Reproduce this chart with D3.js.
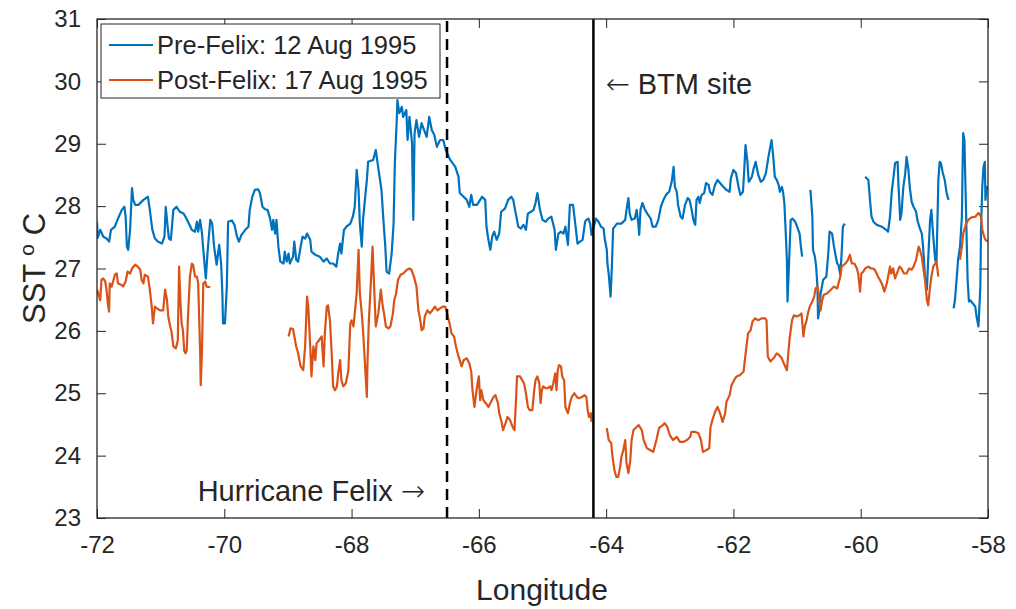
<!DOCTYPE html>
<html>
<head>
<meta charset="utf-8">
<script src="https://cdn.jsdelivr.net/npm/d3@7"></script>
<style>
  body { margin: 0; background: #fff; }
  text { font-family: "Liberation Sans", Arial, Helvetica, sans-serif; fill: #262626; }
</style>
</head>
<body>
<svg id="chart" width="1016" height="609"></svg>
<script>
// ---- Data -------------------------------------------------------------
const xTicks = [-72, -70, -68, -66, -64, -62, -60, -58];
const yTicks = [23, 24, 25, 26, 27, 28, 29, 30, 31];
const seriesNames = ["Pre-Felix: 12 Aug 1995", "Post-Felix: 17 Aug 1995"];
const seriesColors = ["#0072BD", "#D95319"];
const hurricaneLon = -66.5;   // storm track crossing
const btmLon = -64.2;         // BTM mooring site

// Pre-Felix SST transect (null = no data)
const preLon = [
  -72.00,-71.99,-71.95,-71.90,-71.85,-71.81,-71.78,-71.72,-71.67,-71.61,-71.57,-71.55,-71.53,-71.51,-71.48,-71.45,-71.43,-71.40,-71.35,-71.27,
  -71.20,-71.17,-71.13,-71.09,-71.04,-70.98,-70.94,-70.92,-70.89,-70.87,-70.84,-70.80,-70.75,-70.70,-70.64,-70.61,-70.57,-70.51,-70.46,-70.43,
  -70.41,-70.38,-70.35,-70.33,-70.29,-70.26,-70.22,-70.19,-70.16,-70.12,-70.08,-70.05,-70.03,-70.02,-69.99,-69.96,-69.94,-69.88,-69.84,-69.80,
  -69.77,-69.73,-69.67,-69.62,-69.60,-69.56,-69.52,-69.47,-69.44,-69.40,-69.36,-69.32,-69.28,-69.25,-69.23,-69.20,
  -69.18,-69.15,-69.12,-69.07,-69.05,-69.02,-68.99,-68.97,-68.92,-68.90,-68.87,-68.84,-68.80,-68.77,-68.73,-68.70,-68.65,-68.63,-68.57,-68.50,
  -68.44,-68.39,-68.34,-68.29,-68.24,-68.21,-68.18,-68.16,-68.12,-68.08,-68.02,-67.98,-67.95,-67.92,-67.89,-67.87,-67.84,-67.82,-67.76,-67.74,
  -67.66,-67.62,-67.58,-67.53,-67.50,-67.47,-67.45,-67.41,-67.37,-67.34,-67.32,-67.29,-67.28,-67.25,-67.21,-67.19,-67.14,-67.12,-67.09,-67.07,
  -67.05,-67.03,-67.01,-66.98,-66.94,-66.90,-66.86,-66.82,-66.78,-66.74,-66.70,-66.66,-66.61,-66.56,-66.52,-66.45,-66.37,-66.32,-66.30,
  -66.24,-66.19,-66.15,-66.12,-66.09,-66.03,-65.98,-65.95,-65.90,-65.88,-65.85,-65.82,-65.79,-65.76,-65.72,-65.68,-65.65,-65.59,-65.54,-65.49,
  -65.46,-65.42,-65.38,-65.34,-65.30,-65.26,-65.23,-65.18,-65.14,-65.11,-65.08,-65.04,-65.00,-64.95,-64.91,-64.86,-64.81,-64.79,-64.75,-64.71,
  -64.67,-64.64,-64.60,-64.57,-64.52,-64.48,-64.45,-64.41,-64.37,-64.33,-64.31,-64.28,-64.25,-64.23,-64.16,-64.12,-64.08,-64.04,-64.02,-63.99,
  -63.98,-63.96,-63.93,-63.91,-63.89,-63.83,-63.76,-63.70,-63.68,-63.65,-63.63,-63.60,
  -63.55,-63.52,-63.49,-63.48,-63.46,-63.43,-63.39,-63.34,-63.30,-63.27,-63.22,-63.18,-63.14,-63.10,-63.06,-63.01,-62.97,-62.94,-62.92,-62.89,
  -62.87,-62.83,-62.80,-62.76,-62.72,-62.69,-62.66,-62.63,-62.60,-62.58,-62.55,-62.53,-62.50,-62.46,-62.43,-62.39,-62.37,-62.33,-62.29,-62.25,
  -62.21,-62.16,-62.11,-62.06,-62.04,-62.00,-61.96,-61.92,-61.89,-61.85,-61.83,-61.81,-61.78,-61.76,-61.71,-61.68,-61.65,-61.61,-61.57,-61.53,
  -61.49,-61.45,-61.43,-61.40,-61.37,-61.35,-61.32,-61.29,-61.27,-61.24,-61.22,-61.20,-61.18,-61.16,-61.15,-61.13,-61.10,-61.07,-61.03,-61.00,
  -60.96,-60.94,-60.92,
  null,
  -60.79,-60.76,-60.75,-60.72,-60.70,-60.68,-60.67,-60.64,-60.63,-60.59,-60.57,-60.54,-60.51,-60.49,-60.45,-60.42,-60.40,-60.37,-60.35,-60.32,
  -60.30,-60.28,-60.25,
  null,
  -59.93,-59.88,-59.85,-59.83,-59.80,-59.75,-59.67,-59.60,-59.57,-59.54,-59.51,-59.49,-59.46,-59.42,-59.41,-59.38,-59.36,-59.33,-59.30,-59.28,
  -59.25,-59.23,-59.20,-59.17,-59.13,-59.11,-59.08,-59.04,-59.02,-58.99,-58.96,-58.94,-58.91,-58.89,-58.86,-58.83,-58.81,-58.80,-58.78,-58.76,
  -58.74,-58.71,-58.68,-58.65,-58.62,
  null,
  -58.54,-58.52,-58.49,-58.47,-58.44,-58.41,-58.40,-58.39,-58.37,-58.36,-58.33,-58.32,-58.30,-58.28,-58.20,-58.18,-58.15,-58.12,-58.11,-58.09,
  -58.07,-58.05,-58.04,-58.02,-58.00
];
const preSst = [
  27.75,27.49,27.62,27.51,27.48,27.43,27.62,27.67,27.80,27.94,27.99,27.83,27.35,27.30,27.62,28.29,28.10,28.02,28.02,28.10,
  28.15,27.94,27.62,27.48,27.43,27.40,27.51,27.99,27.67,27.48,27.46,27.94,27.99,27.91,27.88,27.83,27.75,27.62,27.59,27.75,
  27.59,27.78,27.56,27.30,26.84,27.30,27.78,27.72,27.35,27.06,27.38,27.08,26.60,26.12,26.12,26.71,27.75,27.77,27.70,27.51,
  27.43,27.54,27.62,27.67,27.94,28.15,28.26,28.27,28.21,27.99,27.95,27.94,27.80,27.62,27.78,27.56,
  27.78,27.35,27.11,27.08,27.27,27.11,27.24,27.08,27.19,27.43,27.14,27.11,27.35,27.51,27.48,27.56,27.46,27.27,27.22,27.19,
  27.11,27.16,27.08,27.08,27.03,27.24,27.40,27.24,27.62,27.67,27.72,27.83,27.99,28.58,28.26,27.72,27.35,27.78,28.42,28.71,
  28.74,28.90,28.61,28.26,27.78,27.35,26.95,26.92,27.24,27.72,28.69,29.38,29.70,29.49,29.59,29.43,29.54,29.06,29.43,29.22,
  29.01,27.78,29.17,29.38,29.11,29.33,29.22,29.11,29.43,29.22,29.14,28.95,29.06,29.06,28.90,28.74,28.63,28.47,28.21,
  28.15,28.10,27.99,28.18,28.02,28.02,28.10,28.15,28.10,27.67,27.46,27.30,27.51,27.59,27.46,27.56,27.91,27.96,28.10,28.15,
  28.10,27.88,27.67,27.64,27.70,27.62,27.88,27.91,27.94,28.05,28.21,27.94,27.78,27.75,27.80,27.83,27.62,27.30,27.56,27.59,
  27.56,27.67,27.38,28.02,28.02,27.67,27.40,27.43,27.46,27.75,27.78,27.80,27.72,27.54,27.80,27.75,27.67,27.64,27.46,27.30,
  27.08,26.92,26.55,27.03,27.64,27.72,27.72,27.78,27.94,28.13,27.88,27.78,
  27.80,27.94,27.67,27.54,27.94,28.05,27.94,27.86,27.80,27.67,27.67,27.78,27.99,28.10,28.18,28.23,28.39,28.63,28.31,28.23,
  28.02,27.83,27.80,28.02,28.13,28.10,27.96,27.78,27.70,28.10,28.15,28.05,28.18,28.21,28.37,28.34,28.23,28.18,28.34,28.42,
  28.37,28.31,28.26,28.23,28.45,28.58,28.53,28.31,28.18,28.23,28.58,28.98,28.71,28.39,28.47,28.61,28.71,28.50,28.39,28.42,
  28.53,28.79,28.90,29.06,28.74,28.47,28.42,28.34,28.23,28.31,28.23,28.05,27.62,27.14,26.47,26.98,27.78,27.80,27.75,27.67,
  27.56,27.35,27.19,
  null,
  28.26,27.83,27.30,27.19,27.03,26.71,26.20,26.39,26.60,26.82,26.84,26.87,27.24,27.59,27.56,27.35,27.24,27.08,27.06,26.90,
  27.24,27.67,27.72,
  null,
  28.47,28.42,28.05,27.83,27.75,27.70,27.67,27.62,27.59,27.83,28.26,28.42,28.69,28.71,28.42,27.78,27.88,28.31,28.53,28.79,
  28.58,28.31,28.07,27.99,27.91,27.78,27.67,27.56,27.35,26.87,26.66,27.14,27.78,27.94,27.51,27.14,27.08,27.51,28.42,28.71,
  28.69,28.53,28.42,28.21,28.10,
  null,
  26.36,26.49,26.87,27.14,27.35,27.83,28.58,29.17,29.06,28.58,27.24,26.82,26.47,26.49,26.39,26.23,26.07,26.71,27.62,28.31,
  28.63,28.71,28.10,28.31,28.26
];

// Post-Felix SST transect (null = no data)
const postLon = [
  -72.00,-71.98,-71.95,-71.93,-71.90,-71.87,-71.85,-71.83,-71.81,-71.80,-71.77,-71.74,-71.72,-71.69,-71.67,-71.62,-71.59,-71.55,-71.52,-71.48,
  -71.45,-71.40,-71.36,-71.32,-71.30,-71.27,-71.25,-71.20,-71.17,-71.14,-71.12,-71.09,-71.06,-71.01,-70.96,-70.93,-70.90,-70.88,-70.85,-70.83,
  -70.80,-70.76,-70.73,-70.71,-70.69,-70.67,-70.65,-70.63,-70.61,-70.59,-70.57,-70.54,-70.51,-70.49,-70.46,-70.43,-70.41,-70.38,-70.37,-70.35,
  -70.33,-70.30,-70.28,-70.22,
  null,
  -68.99,-68.96,-68.92,-68.87,-68.84,-68.80,-68.76,-68.73,-68.70,-68.68,-68.65,-68.63,-68.60,-68.57,-68.55,-68.51,-68.47,-68.44,-68.42,-68.39,
  -68.37,-68.34,-68.31,-68.29,-68.26,-68.23,-68.21,-68.18,-68.16,-68.13,-68.09,-68.05,-68.02,-68.00,-67.97,-67.95,-67.92,-67.89,-67.87,-67.84,
  -67.82,-67.79,-67.76,-67.75,-67.73,-67.70,-67.67,-67.65,-67.62,-67.58,-67.54,-67.51,-67.49,-67.46,-67.42,-67.39,-67.35,-67.33,-67.30,-67.27,
  -67.23,-67.19,-67.13,-67.09,-67.06,-67.02,-66.98,-66.95,-66.92,-66.90,-66.87,-66.85,-66.81,-66.77,-66.73,-66.69,-66.65,-66.61,-66.57,-66.53,
  -66.51,-66.46,-66.43,-66.39,-66.36,-66.32,
  -66.27,-66.24,-66.19,-66.15,-66.12,-66.10,-66.07,-66.05,-66.02,-66.00,-65.98,-65.96,-65.93,-65.89,-65.85,-65.81,-65.77,-65.74,-65.70,-65.68,
  -65.65,-65.62,-65.58,-65.55,-65.51,-65.47,-65.44,-65.42,-65.40,-65.35,-65.32,-65.29,-65.26,-65.23,-65.20,-65.16,-65.13,-65.11,-65.08,-65.05,
  -65.03,-65.01,-64.99,-64.95,-64.92,-64.88,-64.86,-64.83,-64.80,-64.78,-64.76,-64.74,-64.71,-64.69,-64.66,-64.64,-64.60,-64.57,-64.54,-64.50,
  -64.46,-64.43,-64.38,-64.34,-64.31,-64.29,-64.27,-64.24,-64.23,
  null,
  -63.99,-63.96,-63.92,-63.90,-63.87,-63.84,-63.81,-63.78,-63.76,-63.73,-63.70,-63.68,-63.65,-63.62,-63.60,-63.57,-63.49,-63.44,-63.41,-63.36,
  -63.31,-63.26,-63.21,-63.17,-63.11,-63.08,-63.04,-63.00,-62.95,-62.89,-62.84,-62.79,-62.73,-62.68,-62.66,-62.60,-62.55,-62.51,-62.48,-62.42,
  -62.38,-62.36,-62.33,-62.29,-62.25,-62.21,-62.17,-62.13,-62.11,-62.06,-62.03,-61.99,-61.95,-61.90,-61.84,-61.82,-61.79,-61.77,-61.73,-61.70,
  -61.66,-61.61,-61.56,-61.50,-61.48,-61.46,-61.42,-61.37,-61.32,-61.28,-61.24,-61.21,-61.16,-61.12,-61.08,-61.05,-61.01,-60.96,-60.93,-60.90,
  -60.88,-60.85,-60.83,-60.80,-60.76,-60.73,-60.71,-60.68,-60.66,-60.63,-60.61,-60.58,-60.53,-60.47,-60.42,-60.37,-60.35,-60.32,-60.30,-60.24,
  -60.20,-60.17,-60.14,-60.10,-60.06,-60.04,-60.01,-59.99,-59.96,-59.93,-59.88,-59.84,-59.81,-59.78,-59.75,-59.73,-59.70,-59.66,-59.63,-59.59,
  -59.54,-59.52,-59.49,-59.46,-59.42,-59.39,-59.36,-59.32,-59.28,-59.24,-59.20,-59.17,-59.13,-59.09,-59.07,-59.04,-59.02,-58.99,-58.96,-58.94,
  -58.91,-58.89,-58.86,-58.83,-58.81,-58.78,
  null,
  -58.44,-58.41,-58.39,-58.35,-58.31,-58.26,-58.20,-58.15,-58.11,-58.09,-58.06,-58.04,-58.00
];
const postSst = [
  26.66,26.60,26.49,26.82,26.84,26.79,26.66,26.44,26.31,26.76,26.71,26.82,26.90,26.92,26.76,26.74,26.71,26.79,26.95,26.92,
  27.00,27.06,27.03,26.98,26.82,26.76,26.90,26.87,26.66,26.39,26.12,26.39,26.36,26.33,26.33,26.66,26.49,26.23,26.07,25.99,
  25.75,25.72,25.85,27.03,26.49,26.12,26.01,25.69,25.64,25.69,26.23,26.87,27.08,27.06,26.87,26.87,26.76,25.69,25.13,25.69,
  26.76,26.79,26.71,26.70,
  null,
  25.91,26.04,26.03,25.75,25.64,25.43,25.37,25.75,26.55,26.39,25.75,25.27,25.75,25.53,25.80,25.85,25.91,25.43,25.96,26.39,
  26.41,26.17,25.59,25.11,25.05,25.11,25.32,25.53,25.21,25.11,25.16,25.37,26.12,26.17,26.07,26.28,26.60,27.30,26.60,26.28,
  26.01,25.48,24.94,25.48,26.12,26.71,27.35,26.82,26.07,26.28,26.66,26.39,26.28,26.07,26.04,26.07,26.28,26.49,26.60,26.82,
  26.90,26.92,26.98,27.00,26.98,26.87,26.71,26.33,26.17,26.01,26.04,26.23,26.33,26.28,26.33,26.39,26.33,26.36,26.39,26.39,
  26.33,26.12,25.96,25.91,25.75,25.59,
  25.43,25.53,25.56,25.48,25.35,25.05,24.78,24.94,25.16,25.27,24.89,25.05,24.89,24.84,24.78,24.86,24.94,24.97,24.84,24.68,
  24.57,24.41,24.52,24.62,24.57,24.46,24.41,24.81,25.27,25.27,25.21,25.16,25.00,24.78,24.73,24.73,25.05,25.21,25.27,25.16,
  24.84,25.05,25.11,25.08,25.08,25.11,25.05,25.16,25.32,25.05,25.37,25.45,25.43,25.27,25.21,24.78,24.68,24.84,24.94,25.00,
  24.94,24.92,24.94,24.97,24.94,24.73,24.62,24.68,24.54,
  null,
  24.44,24.25,24.20,23.98,23.77,23.66,23.66,23.82,23.98,24.09,24.25,23.88,23.72,23.93,24.25,24.41,24.49,24.41,24.25,24.12,
  24.09,24.06,24.25,24.44,24.49,24.52,24.46,24.33,24.25,24.30,24.22,24.22,24.25,24.30,24.38,24.38,24.36,24.25,24.06,24.09,
  24.12,24.46,24.57,24.70,24.78,24.68,24.54,24.68,24.86,24.97,25.13,25.21,25.27,25.29,25.35,25.53,25.80,25.96,26.01,26.15,
  26.20,26.17,26.20,26.20,26.17,25.59,25.51,25.56,25.64,25.61,25.56,25.48,25.37,25.85,26.17,26.25,26.23,26.25,26.28,25.91,
  26.07,26.17,26.28,26.39,26.47,26.55,26.68,26.71,26.60,26.33,26.47,26.58,26.60,26.66,26.71,26.68,26.76,26.87,27.03,27.08,
  27.14,27.22,27.08,27.08,27.00,26.92,26.63,26.92,26.95,27.00,27.03,27.00,27.00,26.98,26.92,26.87,26.82,26.74,26.63,26.76,
  27.03,26.92,27.00,26.84,26.95,27.03,27.00,26.92,26.92,27.00,26.98,27.03,27.14,27.35,27.30,27.19,27.03,26.82,26.49,26.41,
  26.71,26.87,27.03,27.08,27.11,26.87,
  null,
  27.14,27.35,27.56,27.70,27.78,27.82,27.83,27.89,27.83,27.62,27.51,27.46,27.43
];

if (preLon.length !== preSst.length) throw new Error("pre arrays differ: " + preLon.length + " vs " + preSst.length);
if (postLon.length !== postSst.length) throw new Error("post arrays differ: " + postLon.length + " vs " + postSst.length);

// ---- Layout -----------------------------------------------------------
const W = 1016, H = 609;
const plot = { left: 97, right: 988, top: 19, bottom: 518 };
const axisColor = "#262626";
const tickLen = 9;
const arrowFont = '"DejaVu Sans", "Liberation Sans", sans-serif';

const svg = d3.select("#chart");
svg.append("rect").attr("width", W).attr("height", H).attr("fill", "#fff");

const x = d3.scaleLinear().domain([-72, -58]).range([plot.left, plot.right]);
const y = d3.scaleLinear().domain([23, 31]).range([plot.bottom, plot.top]);

svg.append("defs").append("clipPath").attr("id", "plotClip")
  .append("rect")
  .attr("x", plot.left).attr("y", plot.top)
  .attr("width", plot.right - plot.left).attr("height", plot.bottom - plot.top);

// ---- Axes (box with inward ticks on all four sides) --------------------
const plainNum = d => String(d);   // ASCII hyphen for negatives

function styleAxis(g, hideLabels) {
  g.select(".domain").remove();
  g.selectAll(".tick line").attr("stroke", axisColor).attr("stroke-width", 1);
  if (hideLabels) g.selectAll(".tick text").remove();
  g.selectAll(".tick text")
    .attr("font-size", 24).attr("fill", axisColor)
    .attr("font-family", '"Liberation Sans", Arial, sans-serif');
}

const xAxisBottom = svg.append("g")
  .attr("transform", `translate(0,${plot.bottom})`)
  .call(d3.axisBottom(x).tickValues(xTicks).tickSizeInner(-tickLen).tickSizeOuter(0)
    .tickPadding(18).tickFormat(plainNum));
styleAxis(xAxisBottom, false);

const xAxisTop = svg.append("g")
  .attr("transform", `translate(0,${plot.top})`)
  .call(d3.axisTop(x).tickValues(xTicks).tickSizeInner(-tickLen).tickSizeOuter(0));
styleAxis(xAxisTop, true);

const yAxisLeft = svg.append("g")
  .attr("transform", `translate(${plot.left},0)`)
  .call(d3.axisLeft(y).tickValues(yTicks).tickSizeInner(-tickLen).tickSizeOuter(0)
    .tickPadding(16).tickFormat(plainNum));
styleAxis(yAxisLeft, false);

const yAxisRight = svg.append("g")
  .attr("transform", `translate(${plot.right},0)`)
  .call(d3.axisRight(y).tickValues(yTicks).tickSizeInner(-tickLen).tickSizeOuter(0));
styleAxis(yAxisRight, true);

// ---- Series -----------------------------------------------------------
function toPoints(lon, sst) {
  return lon.map((v, i) => ({ lon: v, sst: sst[i] }));
}
const line = d3.line()
  .defined(d => d.lon != null && d.sst != null)
  .x(d => x(d.lon))
  .y(d => y(d.sst));

const series = [toPoints(preLon, preSst), toPoints(postLon, postSst)];
const plotG = svg.append("g").attr("clip-path", "url(#plotClip)");
series.forEach((pts, i) => {
  plotG.append("path")
    .datum(pts)
    .attr("d", line)
    .attr("fill", "none")
    .attr("stroke", seriesColors[i])
    .attr("stroke-width", 2.2)
    .attr("stroke-linejoin", "round");
});

// Reference lines: hurricane track (dashed) and BTM site (solid)
plotG.append("line")
  .attr("x1", x(hurricaneLon)).attr("x2", x(hurricaneLon))
  .attr("y1", y(23)).attr("y2", y(31))
  .attr("stroke", "#000").attr("stroke-width", 2.5)
  .attr("stroke-dasharray", "11,7");
plotG.append("line")
  .attr("x1", x(btmLon)).attr("x2", x(btmLon))
  .attr("y1", y(23)).attr("y2", y(31))
  .attr("stroke", "#000").attr("stroke-width", 2.5);

// Box outline
svg.append("rect")
  .attr("x", plot.left).attr("y", plot.top)
  .attr("width", plot.right - plot.left).attr("height", plot.bottom - plot.top)
  .attr("fill", "none").attr("stroke", axisColor).attr("stroke-width", 1.3);

// ---- Annotations ------------------------------------------------------
const btmText = svg.append("text")
  .attr("x", x(btmLon) + 12).attr("y", 94)
  .attr("font-size", 29);
btmText.append("tspan").attr("font-family", arrowFont).attr("font-weight", 300).text("\u2190");
btmText.append("tspan").text(" BTM site");

const hurText = svg.append("text")
  .attr("x", x(hurricaneLon) - 22).attr("y", 501)
  .attr("text-anchor", "end")
  .attr("font-size", 29);
hurText.append("tspan").text("Hurricane Felix ");
hurText.append("tspan").attr("font-family", arrowFont).attr("font-weight", 300).text("\u2192");

// ---- Axis labels ------------------------------------------------------
svg.append("text")
  .attr("x", 542).attr("y", 600)
  .attr("text-anchor", "middle")
  .attr("font-size", 30)
  .text("Longitude");

const yLabel = svg.append("text")
  .attr("transform", `translate(45,${(plot.top + plot.bottom) / 2}) rotate(-90)`)
  .attr("text-anchor", "middle")
  .attr("font-size", 31);
yLabel.append("tspan").text("SST ");
yLabel.append("tspan").attr("font-size", 21).attr("dy", -11).text("o");
yLabel.append("tspan").attr("dy", 11).text(" C");

// ---- Legend -----------------------------------------------------------
const legend = svg.append("g");
legend.append("rect")
  .attr("x", 101).attr("y", 24).attr("width", 339).attr("height", 74)
  .attr("fill", "#fff").attr("stroke", axisColor).attr("stroke-width", 1);
const legendRows = [45, 80];
seriesNames.forEach((name, i) => {
  legend.append("line")
    .attr("x1", 109).attr("x2", 153)
    .attr("y1", legendRows[i]).attr("y2", legendRows[i])
    .attr("stroke", seriesColors[i]).attr("stroke-width", 2);
  legend.append("text")
    .attr("x", 157).attr("y", legendRows[i] + 9)
    .attr("font-size", 25.5)
    .text(name);
});
</script>
</body>
</html>
